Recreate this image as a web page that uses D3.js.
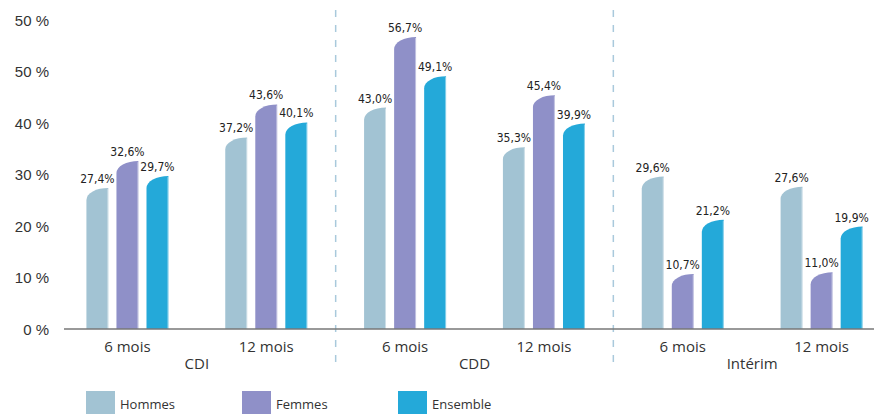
<!DOCTYPE html>
<html>
<head>
<meta charset="utf-8">
<script src="https://cdn.jsdelivr.net/npm/d3@7"></script>
<style>
  body { margin: 0; background: #fff; }
  svg { display: block; font-family: 'Open Sans', 'Noto Sans', sans-serif; }
  .tick-label { font-size: 15px; fill: #333; }
  .val { font-family: 'Liberation Sans Narrow', 'DejaVu Sans Condensed', sans-serif; font-size: 12px; fill: #222; }
</style>
</head>
<body>
<div id="chart"></div>
<script>
'use strict';

// Data
var contracts = ['CDI', 'CDD', 'Intérim'];
var durations = ['6 mois', '12 mois'];
var series = ['Hommes', 'Femmes', 'Ensemble'];
var hommes = [27.4, 37.2, 43.0, 35.3, 29.6, 27.6];
var femmes = [32.6, 43.6, 56.7, 45.4, 10.7, 11.0];
var ensemble = [29.7, 40.1, 49.1, 39.9, 21.2, 19.9];
var yTicks = [0, 10, 20, 30, 40, 50, 60];
var yTickLabels = ['0 %', '10 %', '20 %', '30 %', '40 %', '50 %', '50 %'];

var colors = {Hommes: '#a2c3d3', Femmes: '#8f90c8', Ensemble: '#24a9d9'};
var values = {Hommes: hommes, Femmes: femmes, Ensemble: ensemble};

var width = 874, height = 414;

var svg = d3.select('#chart').append('svg')
  .attr('width', width)
  .attr('height', height);

// Slots: one per contract x duration
var slots = [];
contracts.forEach(function(c) {
  durations.forEach(function(d) { slots.push(c + '|' + d); });
});

var x0 = d3.scaleBand().domain(slots).range([58, 891]);
var x1 = d3.scaleBand().domain(series).range([-41, 41]).paddingInner(0.27);
var y = d3.scaleLinear().domain([0, 60]).range([329, 20]);

// Y axis labels (no line)
var yAxis = d3.axisLeft(y)
  .tickValues(yTicks)
  .tickSize(0)
  .tickPadding(0)
  .tickFormat(function(d, i) { return yTickLabels[i]; });

svg.append('g')
  .attr('transform', 'translate(49,0)')
  .call(yAxis)
  .call(function(g) { g.select('.domain').remove(); })
  .selectAll('text')
    .attr('class', 'tick-label')
    .attr('dy', '0.35em');

// Separators between contract groups
[2, 4].forEach(function(i) {
  var xs = x0(slots[i]);
  svg.append('line')
    .attr('x1', xs).attr('x2', xs)
    .attr('y1', 10).attr('y2', 366)
    .attr('stroke', '#a9c9dc')
    .attr('stroke-width', 1.5)
    .attr('stroke-dasharray', '7,8');
});

// Bars with a curved top-left corner
function barPath(xl, w, top, base) {
  var h = Math.min(12, base - top);
  return 'M' + xl + ',' + base +
    'L' + xl + ',' + (top + h) +
    'A' + w + ',' + h + ' 0 0 1 ' + (xl + w) + ',' + top +
    'L' + (xl + w) + ',' + base + 'Z';
}

var fmt = function(v) { return d3.format('.1f')(v).replace('.', ',') + '%'; };

slots.forEach(function(slot, i) {
  var cx = x0(slot) + x0.bandwidth() / 2;
  series.forEach(function(s) {
    var v = values[s][i];
    var xl = cx + x1(s);
    var w = x1.bandwidth();
    svg.append('path')
      .attr('d', barPath(xl, w, y(v), y(0)))
      .attr('fill', colors[s]);
    svg.append('line')
      .attr('x1', xl + w - 0.5).attr('x2', xl + w - 0.5)
      .attr('y1', y(v) + 1).attr('y2', y(0))
      .attr('stroke', '#fff').attr('stroke-opacity', 0.45);
    svg.append('text')
      .attr('class', 'val')
      .attr('x', xl + w / 2)
      .attr('y', y(v) - 5)
      .attr('text-anchor', 'middle')
      .text(fmt(v));
  });
});

// Baseline
svg.append('line')
  .attr('x1', 64).attr('x2', width)
  .attr('y1', y(0)).attr('y2', y(0))
  .attr('stroke', '#777')
  .attr('stroke-width', 1.3);

// Duration labels
slots.forEach(function(slot) {
  svg.append('text')
    .attr('class', 'tick-label')
    .attr('x', x0(slot) + x0.bandwidth() / 2)
    .attr('y', 352)
    .attr('text-anchor', 'middle')
    .text(slot.split('|')[1]);
});

// Contract labels
contracts.forEach(function(c, i) {
  var xs = x0(slots[i * 2]) + x0.bandwidth();
  svg.append('text')
    .attr('class', 'tick-label')
    .attr('x', xs)
    .attr('y', 369)
    .attr('text-anchor', 'middle')
    .text(c);
});

// Legend
var legend = svg.append('g').attr('transform', 'translate(86,391)');
series.forEach(function(s, i) {
  var g = legend.append('g').attr('transform', 'translate(' + (i * 156) + ',0)');
  g.append('rect')
    .attr('width', 29).attr('height', 24)
    .attr('fill', colors[s]);
  g.append('text')
    .attr('x', 34).attr('y', 18)
    .attr('font-size', 13)
    .attr('fill', '#333')
    .text(s);
});
</script>
</body>
</html>
